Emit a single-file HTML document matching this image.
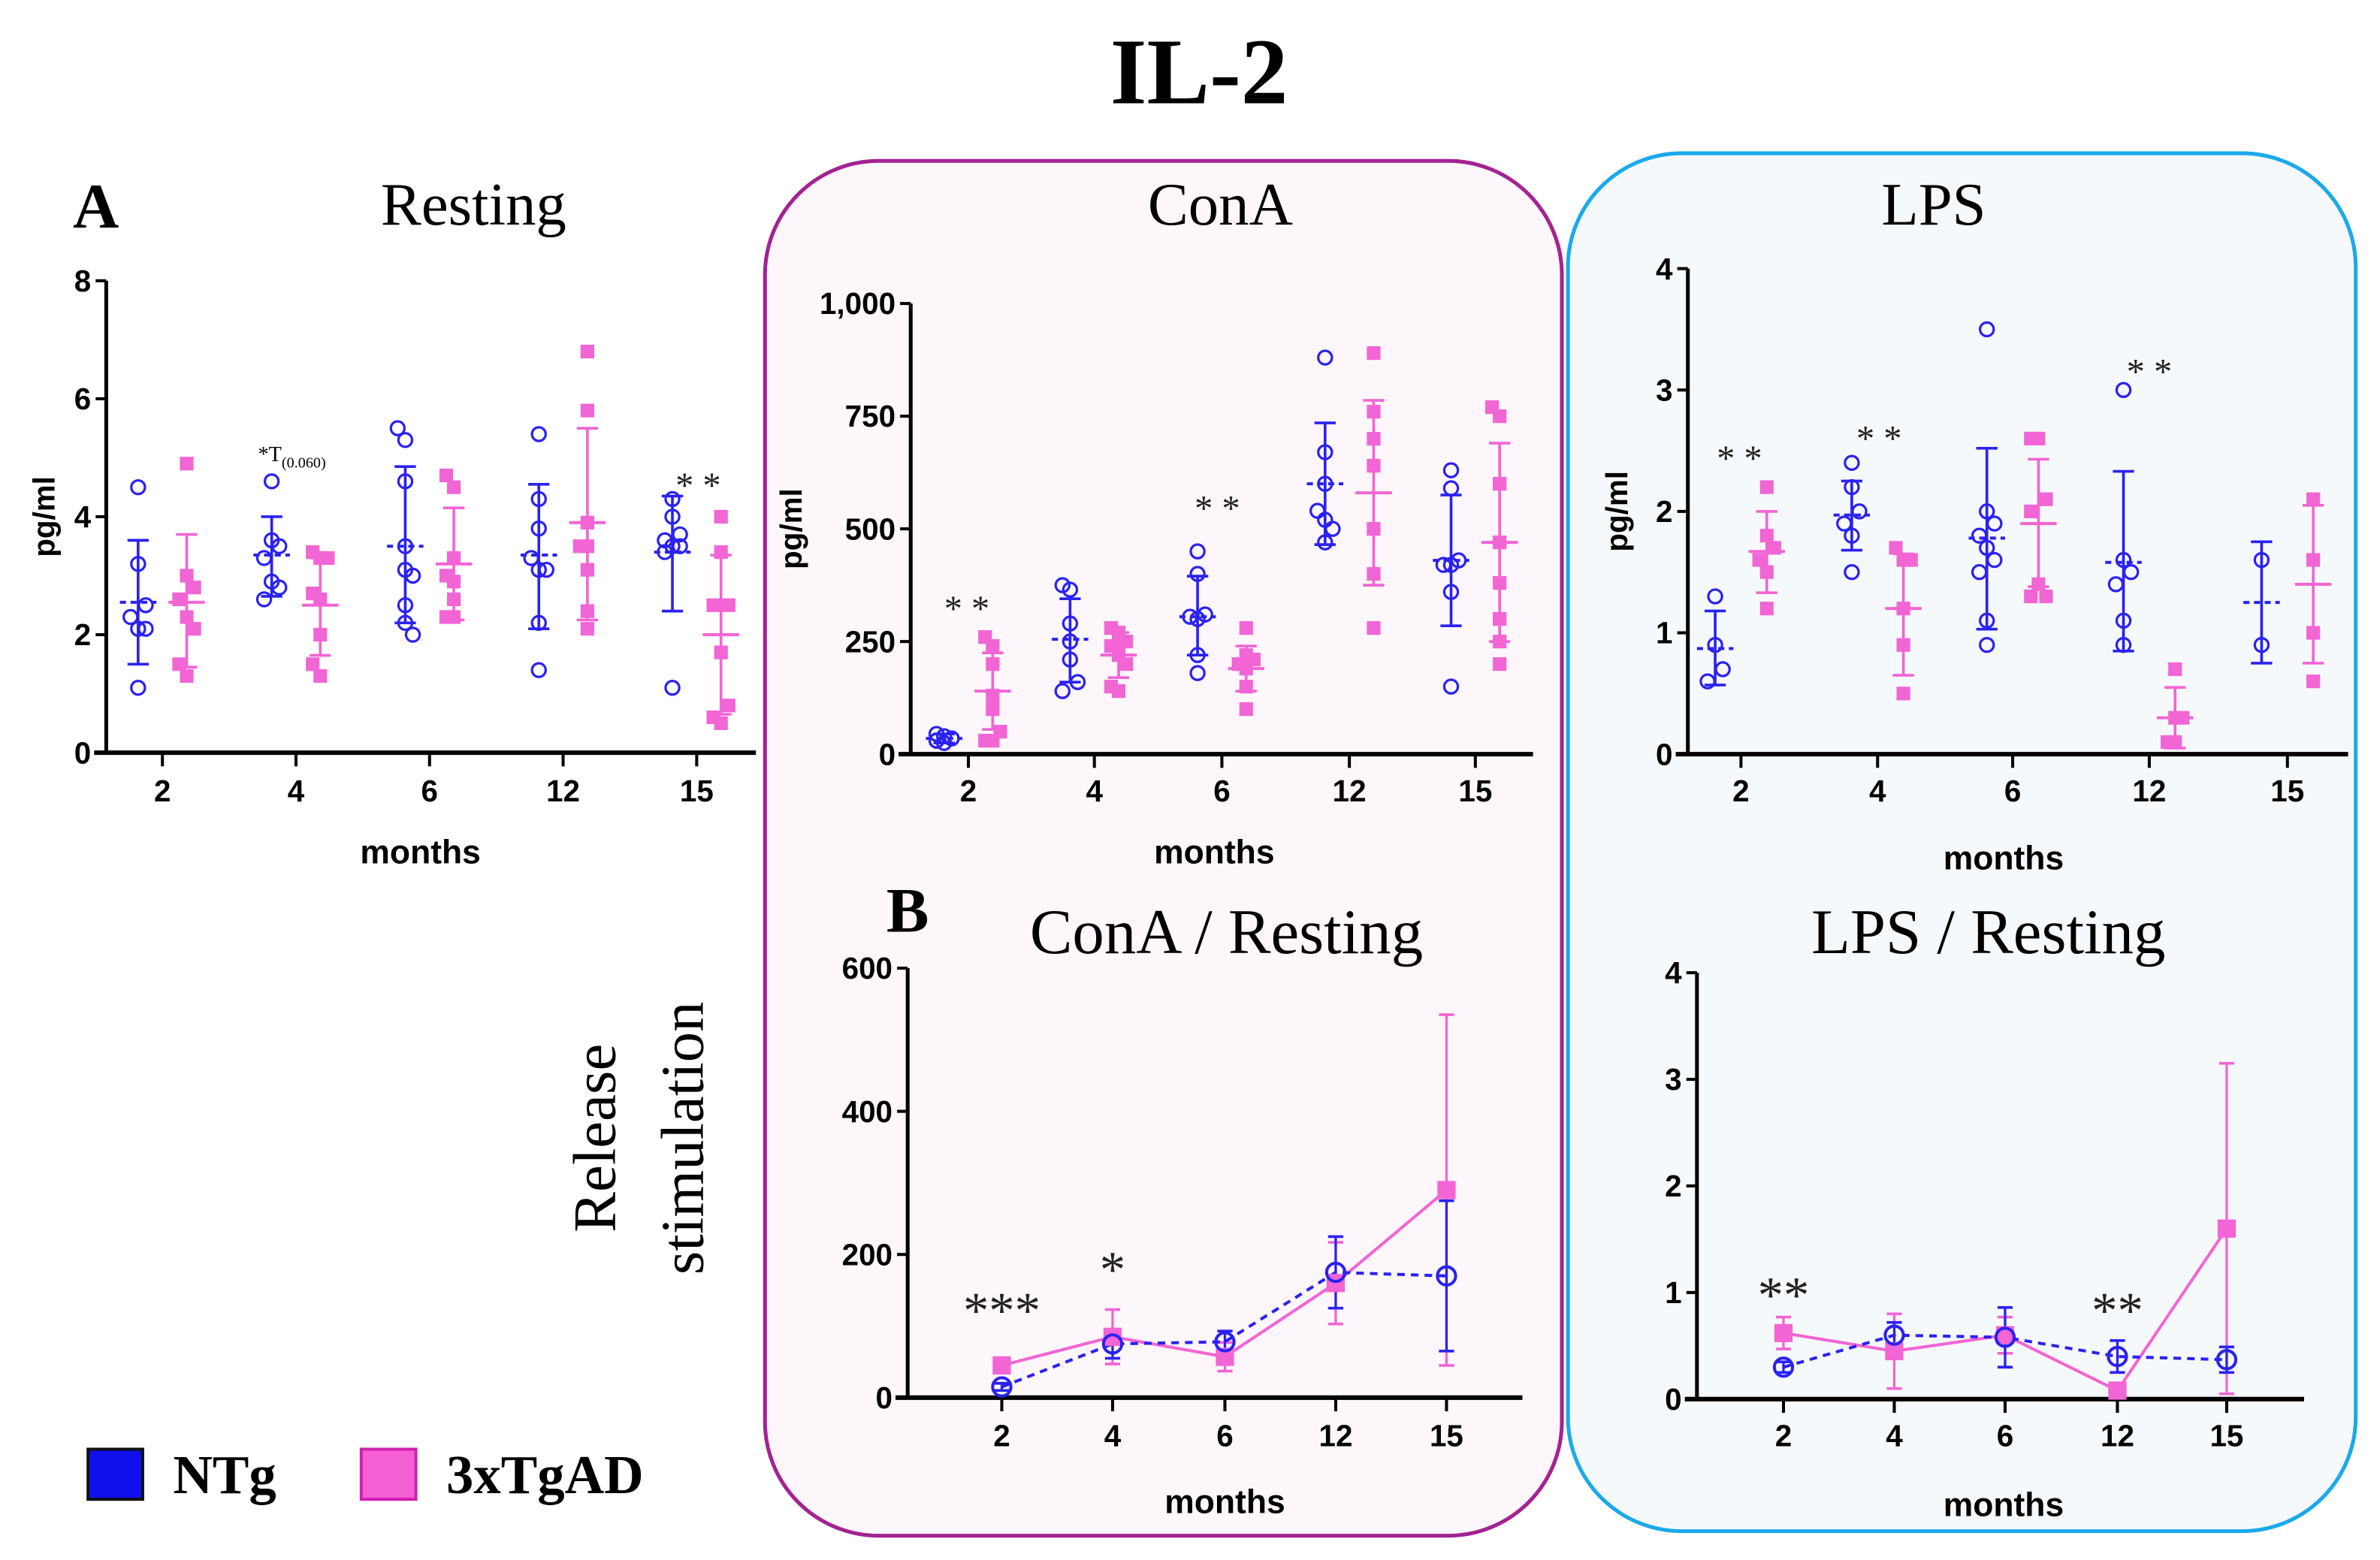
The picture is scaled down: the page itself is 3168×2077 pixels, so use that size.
<!DOCTYPE html>
<html><head><meta charset="utf-8">
<style>
html,body{margin:0;padding:0;background:#fff}
svg{display:block}
.ser{font-family:"Liberation Serif",serif}
.sans{font-family:"Liberation Sans",sans-serif;font-weight:bold}
</style></head>
<body>
<svg id="fig" width="3168" height="2077" viewBox="0 0 1568 1028" xmlns="http://www.w3.org/2000/svg">
<rect x="0" y="0" width="1568" height="1028" fill="#fff"/>
<rect x="504" y="106" width="525" height="906" rx="75" fill="#fdf6fb" stroke="#a32392" stroke-width="2.5"/>
<rect x="1033" y="101" width="519" height="908" rx="75" fill="#f6f9fc" stroke="#1ba9ea" stroke-width="2.5"/>
<text class="ser" x="790" y="68" font-size="62" font-weight="bold" text-anchor="middle">IL-2</text>
<text class="ser" x="48" y="150" font-size="42" font-weight="bold">A</text>
<text class="ser" x="312" y="148" font-size="40" text-anchor="middle">Resting</text>
<text class="ser" x="804" y="148" font-size="40" text-anchor="middle">ConA</text>
<text class="ser" x="1274" y="148" font-size="40" text-anchor="middle">LPS</text>
<text class="ser" x="584" y="614" font-size="42" font-weight="bold">B</text>
<text class="ser" x="808" y="628" font-size="42" text-anchor="middle">ConA / Resting</text>
<text class="ser" x="1310" y="628" font-size="42" text-anchor="middle">LPS / Resting</text>
<text class="ser" font-size="40" text-anchor="middle" transform="translate(405,750) rotate(-90)">Release</text>
<text class="ser" font-size="40" text-anchor="middle" transform="translate(463,750) rotate(-90)">stimulation</text>
<rect x="58" y="955" width="36" height="33" fill="#1010ee" stroke="#111" stroke-width="2"/>
<text class="ser" x="114" y="984" font-size="36" font-weight="bold">NTg</text>
<rect x="238" y="955" width="36" height="33" fill="#f45fd3" stroke="#d020b0" stroke-width="2"/>
<text class="ser" x="294" y="984" font-size="36" font-weight="bold">3xTgAD</text>
<g id="plots"></g>
</svg>
<script>
const months = ["2","4","6","12","15"];
// Resting
const restNTg = [[4.5,3.2,2.5,2.3,2.1,2.1,1.1],[4.6,3.6,3.5,3.3,2.9,2.8,2.6],[5.5,5.3,4.6,3.5,3.1,3.0,2.5,2.2,2.0],[5.4,4.3,3.8,3.3,3.1,3.1,2.2,1.4],[4.3,4.0,3.7,3.6,3.5,3.5,3.4,1.1]];
const restNTgMean = [2.55,3.35,3.5,3.35,3.4];
const restNTgLo = [1.5,2.65,2.2,2.1,2.4];
const restNTgHi = [3.6,4.0,4.85,4.55,4.35];
const restTg = [[4.9,3.0,2.8,2.6,2.3,2.1,1.5,1.3],[3.4,3.3,3.3,2.7,2.6,2.0,1.5,1.3],[4.7,4.5,3.3,3.0,2.9,2.6,2.3,2.3],[6.8,5.8,3.9,3.5,3.5,3.1,2.4,2.1],[4.0,3.4,2.5,2.5,1.7,0.8,0.6,0.5]];
const restTgMean = [2.55,2.5,3.2,3.9,2.0];
const restTgLo = [1.45,1.65,2.25,2.25,0.65];
const restTgHi = [3.7,3.3,4.15,5.5,3.35];
const restTicks = [0,2,4,6,8];
// ConA
const conaNTg = [[45,40,35,30,25,35,30],[375,365,290,250,210,160,140],[450,400,310,305,300,220,180],[880,670,600,540,520,500,470],[630,590,430,420,420,360,150]];
const conaNTgMean = [35,255,305,600,430];
const conaNTgLo = [25,160,220,465,285];
const conaNTgHi = [45,345,395,735,575];
const conaTg = [[260,240,200,130,100,50,30,30],[280,270,250,240,220,200,150,140],[280,220,210,200,190,150,100],[890,760,700,640,500,400,280],[770,750,600,470,380,300,250,200]];
const conaTgMean = [140,220,190,580,470];
const conaTgLo = [55,170,140,375,250];
const conaTgHi = [225,270,240,785,690];
const conaTicks = [0,250,500,750,1000];
const conaTickLabels = ["0","250","500","750","1,000"];
// LPS
const lpsNTg = [[1.3,0.9,0.7,0.6],[2.4,2.2,2.0,1.9,1.8,1.5],[3.5,2.0,1.9,1.8,1.7,1.6,1.5,1.1,0.9],[3.0,1.6,1.5,1.4,1.1,0.9],[1.6,0.9]];
const lpsNTgMean = [0.87,1.97,1.78,1.58,1.25];
const lpsNTgLo = [0.57,1.68,1.03,0.85,0.75];
const lpsNTgHi = [1.18,2.25,2.52,2.33,1.75];
const lpsTg = [[2.2,1.8,1.7,1.6,1.5,1.2],[1.7,1.6,1.6,1.2,0.9,0.5],[2.6,2.6,2.1,2.0,1.4,1.3,1.3],[0.7,0.3,0.3,0.1,0.1],[2.1,1.6,1.0,0.6]];
const lpsTgMean = [1.67,1.2,1.9,0.3,1.4];
const lpsTgLo = [1.33,0.65,1.38,0.05,0.75];
const lpsTgHi = [2.0,1.65,2.43,0.55,2.05];
const lpsTicks = [0,1,2,3,4];
// ConA / Resting
const crNTgMean = [15,75,78,175,170];
const crNTgErr = [5,20,15,50,105];
const crTgMean = [45,85,57,160,290];
const crTgErr = [8,38,20,57,245];
const crTicks = [0,200,400,600];
// LPS / Resting
const lrNTgMean = [0.3,0.6,0.58,0.4,0.37];
const lrNTgErr = [0.05,0.12,0.28,0.15,0.12];
const lrTgMean = [0.62,0.45,0.6,0.08,1.6];
const lrTgErr = [0.15,0.35,0.17,0.05,1.55];
const lrTicks = [0,1,2,3,4];

const BLUE="#2a22f0", PINK="#f265d4", NS="http://www.w3.org/2000/svg";
const root=document.getElementById('plots');
function el(tag,attrs,parent,txt){const e=document.createElementNS(NS,tag);for(const k in attrs)e.setAttribute(k,attrs[k]);if(txt!==undefined)e.textContent=txt;(parent||root).appendChild(e);return e;}

function axes(g,cfg){
  const {x0,x1,y0,y1,ymax,ticks,labels,tickX,ylab,ylabX,monthsX,monthsY,xlabY}=cfg;
  const ys=v=>y0-(v/ymax)*(y0-y1);
  const ya=el('line',{x1:x0,y1:y1,x2:x0,y2:y0,stroke:'#000','stroke-width':2.5},g);
  
  
  const xa=el('line',{x1:x0-8,y1:y0,x2:x1,y2:y0,stroke:'#000','stroke-width':3},g);
  
  
  ticks.forEach((t,i)=>{
    el('line',{x1:x0-7,y1:ys(t),x2:x0,y2:ys(t),stroke:'#000','stroke-width':2},g);
    const tl=el('text',{x:x0-10,y:ys(t)+7,'font-size':20,'text-anchor':'end',class:'sans'},g,labels?labels[i]:String(t));
    
    
  });
  tickX.forEach((x,i)=>{
    el('line',{x1:x,y1:y0,x2:x,y2:y0+9,stroke:'#000','stroke-width':2},g);
    const tl=el('text',{x:x,y:xlabY,'font-size':20,'text-anchor':'middle',class:'sans'},g,months[i]);
    
    
  });
  const ml=el('text',{x:monthsX,y:monthsY,'font-size':22,'text-anchor':'middle',class:'sans'},g,'months');
  
  
  if(ylab){
    const yl=el('text',{'font-size':20,'text-anchor':'middle',class:'sans',transform:`translate(${ylabX},${(y0+y1)/2}) rotate(-90)`},g,ylab);
    
    
  }
  return ys;
}
function circle(g,x,y,c){const m=el('circle',{cx:x,cy:y,r:4.5,fill:'none',stroke:c,'stroke-width':1.6},g);}
function square(g,x,y,c){const m=el('rect',{x:x-4.5,y:y-4.5,width:9,height:9,fill:c},g);}
function errbar(g,x,lo,hi,mean,c,dash){
  el('line',{x1:x,y1:lo,x2:x,y2:hi,stroke:c,'stroke-width':1.8},g);
  el('line',{x1:x-7,y1:lo,x2:x+7,y2:lo,stroke:c,'stroke-width':1.8},g);
  el('line',{x1:x-7,y1:hi,x2:x+7,y2:hi,stroke:c,'stroke-width':1.8},g);
  const ml=el('line',{x1:x-12,y1:mean,x2:x+12,y2:mean,stroke:c,'stroke-width':2,'stroke-dasharray':dash?'4,3':'none'},g);
  
  
}
function jitterOf(arr,v,j,ymax){return arr.filter(w=>Math.abs(w-v)<ymax*0.03).length>1?((j%3)-1)*5:0;}
function scatter(name,cfg,nv,nm,nl,nh,tv,tm,tl,th,off){
  const g=el('g',{});
  
  
  const ys=axes(g,cfg);
  cfg.tickX.forEach((x,i)=>{
    const xn=x-off, xt=x+off;
    nv[i].forEach((v,j)=>circle(g,xn+jitterOf(nv[i],v,j,cfg.ymax),ys(v),BLUE));
    errbar(g,xn,ys(nl[i]),ys(nh[i]),ys(nm[i]),BLUE,true);
    tv[i].forEach((v,j)=>square(g,xt+jitterOf(tv[i],v,j,cfg.ymax),ys(v),PINK));
    errbar(g,xt,ys(tl[i]),ys(th[i]),ys(tm[i]),PINK,false);
  });
  return g;
}
function lines(name,cfg,nm,ne,tm,te){
  const g=el('g',{});
  
  
  const ys=axes(g,cfg);
  const X=cfg.tickX;
  const cap=(x,y,c)=>el('line',{x1:x-5,y1:y,x2:x+5,y2:y,stroke:c,'stroke-width':1.8},g);
  X.forEach((x,i)=>{
    const lo=Math.max(0,tm[i]-te[i]);
    el('line',{x1:x,y1:ys(lo),x2:x,y2:ys(tm[i]+te[i]),stroke:PINK,'stroke-width':1.6},g);cap(x,ys(lo),PINK);cap(x,ys(tm[i]+te[i]),PINK);
    el('line',{x1:x,y1:ys(nm[i]-ne[i]),x2:x,y2:ys(nm[i]+ne[i]),stroke:BLUE,'stroke-width':1.6},g);cap(x,ys(nm[i]-ne[i]),BLUE);cap(x,ys(nm[i]+ne[i]),BLUE);
  });
  const pl=el('polyline',{points:X.map((x,i)=>x+','+ys(tm[i])).join(' '),fill:'none',stroke:PINK,'stroke-width':2},g);
  
  
  const bl=el('polyline',{points:X.map((x,i)=>x+','+ys(nm[i])).join(' '),fill:'none',stroke:BLUE,'stroke-width':2,'stroke-dasharray':'5,4'},g);
  
  
  X.forEach((x,i)=>{
    const s=el('rect',{x:x-6,y:ys(tm[i])-6,width:12,height:12,fill:PINK},g);
    
    
    const c=el('circle',{cx:x,cy:ys(nm[i]),r:6,fill:'none',stroke:BLUE,'stroke-width':2},g);
    
    
  });
  return g;
}
function star(x,y,t,size){const s=el('text',{x:x,y:y,'font-size':size||26,'text-anchor':'middle',class:'ser',fill:'#222'},root,t);}

scatter('resting-chart',{x0:70,x1:498,y0:496,y1:185,ymax:8,ticks:restTicks,tickX:[107,195,283,371,459],ylab:'pg/ml',ylabX:36,monthsX:277,monthsY:569,xlabY:528},
  restNTg,restNTgMean,restNTgLo,restNTgHi,restTg,restTgMean,restTgLo,restTgHi,16);
scatter('cona-chart',{x0:600,x1:1010,y0:497,y1:200,ymax:1000,ticks:conaTicks,labels:conaTickLabels,tickX:[638,721,805,889,972],ylab:'pg/ml',ylabX:528,monthsX:800,monthsY:569,xlabY:528},
  conaNTg,conaNTgMean,conaNTgLo,conaNTgHi,conaTg,conaTgMean,conaTgLo,conaTgHi,16);
scatter('lps-chart',{x0:1112,x1:1547,y0:497,y1:177,ymax:4,ticks:lpsTicks,tickX:[1147,1237,1326,1416,1507],ylab:'pg/ml',ylabX:1072,monthsX:1320,monthsY:573,xlabY:528},
  lpsNTg,lpsNTgMean,lpsNTgLo,lpsNTgHi,lpsTg,lpsTgMean,lpsTgLo,lpsTgHi,17);
lines('cona-resting-chart',{x0:598,x1:1003,y0:921,y1:638,ymax:600,ticks:crTicks,tickX:[660,733,807,880,953],monthsX:807,monthsY:997,xlabY:953},crNTgMean,crNTgErr,crTgMean,crTgErr);
lines('lps-resting-chart',{x0:1118,x1:1518,y0:922,y1:641,ymax:4,ticks:lrTicks,tickX:[1175,1248,1321,1395,1467],monthsX:1320,monthsY:999,xlabY:953},lrNTgMean,lrNTgErr,lrTgMean,lrTgErr);

star(460,328,'* *',24); star(637,409,'* *',24); star(802,343,'* *',24);
star(1146,310,'* *',24); star(1238,297,'* *',24); star(1416,253,'* *',24);
star(660,875,'***',34); star(733,848,'*',34); star(1175,865,'**',34); star(1395,875,'**',34);
const ann=el('text',{x:170,y:304,'font-size':14,class:'ser'},root);


ann.innerHTML='*T<tspan font-size="10" dy="4">(0.060)</tspan>';
</script>
</body></html>
